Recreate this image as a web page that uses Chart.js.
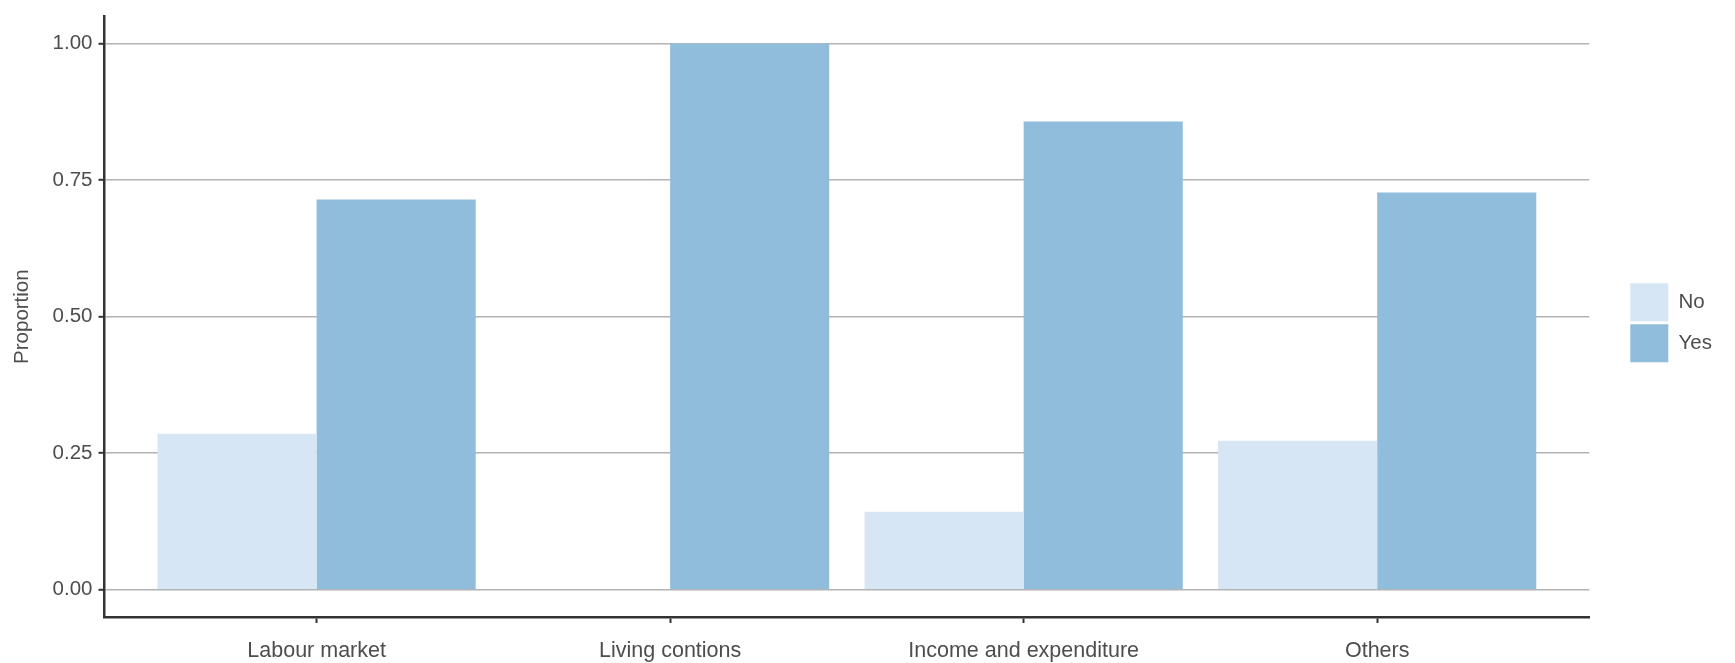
<!DOCTYPE html>
<html>
<head>
<meta charset="utf-8">
<title>Proportion by topic</title>
<script src="https://cdn.jsdelivr.net/npm/chart.js@4/dist/chart.umd.min.js"></script>
<style>
  html, body { margin: 0; padding: 0; background: #fff; }
  #wrap { width: 1735px; height: 663px; }
</style>
</head>
<body>
<div id="wrap"><canvas id="chart" width="1735" height="663"></canvas></div>
<script>
// data
var categories = ["Labour market", "Living contions", "Income and expenditure", "Others"];
var seriesNames = ["No", "Yes"];
var noValues = [0.2857, 0, 0.1429, 0.2727];
var yesValues = [0.7143, 1.0, 0.8571, 0.7273];
var yTicks = [0, 0.25, 0.5, 0.75, 1];

var colNo = "#d6e6f4";
var colYes = "#8fbddb";
var axisCol = "#333333";
var textCol = "#4d4d4d";
var fontFam = "'Liberation Sans', Arial, Helvetica, sans-serif";

function toPoints(vals) {
    return vals.map(function(v, i) { return { x: i, y: v }; });
}

var ctx = document.getElementById("chart").getContext("2d");

new Chart(ctx, {
    type: "bar",
    data: {
        datasets: [
            { label: seriesNames[0], data: toPoints(noValues), backgroundColor: colNo, borderWidth: 0 },
            { label: seriesNames[1], data: toPoints(yesValues), backgroundColor: colYes, borderWidth: 0 }
        ]
    },
    options: {
        responsive: false,
        animation: false,
        barPercentage: 1.0,
        categoryPercentage: 0.9,
        layout: { padding: { top: 13, right: 13, bottom: 0, left: 0 } },
        plugins: {
            tooltip: { enabled: false },
            legend: {
                position: "right",
                fullSize: false,
                title: { display: true, text: "", font: { size: 1 }, padding: { top: 11, bottom: 0 } },
                labels: {
                    boxWidth: 38,
                    boxHeight: 38,
                    padding: 3,
                    color: textCol,
                    font: { family: fontFam, size: 20.5 }
                }
            }
        },
        scales: {
            x: {
                type: "linear",
                min: -0.6,
                max: 3.6,
                offset: false,
                afterBuildTicks: function(scale) {
                    scale.ticks = categories.map(function(c, i) { return { value: i }; });
                },
                afterFit: function(scale) { scale.height = 46; },
                ticks: {
                    color: textCol,
                    font: { family: fontFam, size: 21.5 },
                    padding: 15,
                    maxRotation: 0,
                    callback: function(v) { return categories[v]; }
                },
                grid: {
                    display: true,
                    drawOnChartArea: false,
                    offset: false,
                    tickLength: 6,
                    tickColor: axisCol,
                    tickWidth: 2
                },
                border: { display: true, color: axisCol, width: 2.5 }
            },
            y: {
                min: -0.05,
                max: 1.05,
                afterBuildTicks: function(scale) {
                    scale.ticks = yTicks.map(function(v) { return { value: v }; });
                },
                afterFit: function(scale) { scale.width = 104.5; },
                ticks: {
                    color: textCol,
                    font: { family: fontFam, size: 20.5, lineHeight: 1 },
                    padding: 6,
                    callback: function(v) { return Number(v).toFixed(2); }
                },
                grid: {
                    color: "#b3b3b3",
                    lineWidth: 1.6,
                    tickLength: 6,
                    tickColor: axisCol,
                    tickWidth: 2
                },
                border: { display: true, color: axisCol, width: 2.5 },
                title: {
                    display: true,
                    text: "Proportion",
                    color: textCol,
                    font: { family: fontFam, size: 20.5 },
                    padding: { top: 10, bottom: 0 }
                }
            },
            // empty axis, only keeps a gap between panel and legend
            yGap: {
                position: "right",
                display: true,
                grid: { display: false },
                border: { display: false },
                ticks: { display: false },
                afterFit: function(scale) { scale.width = 38; }
            }
        }
    }
});
</script>
</body>
</html>
